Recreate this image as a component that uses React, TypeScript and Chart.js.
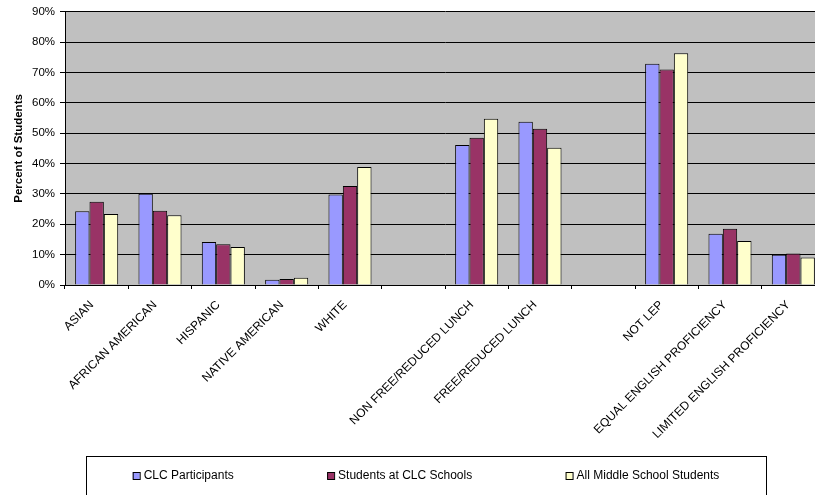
import React, { useEffect, useRef } from "react";
import { Chart, registerables } from "chart.js";

Chart.register(...registerables);

const categories = [
  "ASIAN",
  "AFRICAN AMERICAN",
  "HISPANIC",
  "NATIVE AMERICAN",
  "WHITE",
  "",
  "NON FREE/REDUCED LUNCH",
  "FREE/REDUCED LUNCH",
  "",
  "NOT LEP",
  "EQUAL ENGLISH PROFICIENCY",
  "LIMITED ENGLISH PROFICIENCY",
];
const seriesNames = ["CLC Participants", "Students at CLC Schools", "All Middle School Students"];
const clcParticipants = [24.3, 30.1, 14.2, 1.7, 29.8, null, 46.1, 53.8, null, 72.9, 16.9, 10.0];
const clcSchools = [27.4, 24.5, 13.4, 2.0, 32.6, null, 48.5, 51.5, null, 71.0, 18.5, 10.4];
const allMiddle = [23.4, 23.0, 12.5, 2.4, 38.9, null, 54.8, 45.2, null, 76.4, 14.5, 9.1];
const yTicks = [0, 10, 20, 30, 40, 50, 60, 70, 80, 90];
const colors = ["#9999FF", "#993366", "#FFFFCC"];

const FONT = "'Liberation Sans', Arial, sans-serif";

const plotBg = {
  id: "plotBg",
  beforeDraw(chart: any) {
    const { ctx, chartArea: a } = chart;
    ctx.save();
    ctx.fillStyle = "#C0C0C0";
    ctx.fillRect(a.left, a.top, a.right - a.left, a.bottom - a.top);
    ctx.restore();
  },
};

const boxLegend = {
  id: "boxLegend",
  afterDraw(chart: any) {
    const { ctx } = chart;
    const left = 86, top = 456, width = 680, height = 60;
    ctx.save();
    ctx.strokeStyle = "#000";
    ctx.lineWidth = 1;
    ctx.strokeRect(left + 0.5, top + 0.5, width, height);
    ctx.font = `12px ${FONT}`;
    ctx.textBaseline = "middle";
    const items = chart.data.datasets.map((d: any) => ({
      label: d.label,
      color: d.backgroundColor,
      w: 11 + ctx.measureText(d.label).width,
    }));
    const total = items.reduce((s: number, it: any) => s + it.w, 0);
    const gap = (width - total) / items.length;
    let x = left + gap / 2;
    const cy = 476;
    items.forEach((it: any) => {
      ctx.fillStyle = it.color;
      ctx.fillRect(x, cy - 4, 7, 7);
      ctx.strokeStyle = "#000";
      ctx.strokeRect(x + 0.5, cy - 3.5, 7, 7);
      ctx.fillStyle = "#000";
      ctx.textAlign = "left";
      ctx.fillText(it.label, x + 11, cy);
      x += it.w + gap;
    });
    ctx.restore();
  },
};

export default function App() {
  const ref = useRef<HTMLCanvasElement>(null);
  useEffect(() => {
    if (!ref.current) return;
    Chart.defaults.font.family = FONT;
    Chart.defaults.color = "#000";
    const chart = new Chart(ref.current, {
      type: "bar",
      data: {
        labels: categories,
        datasets: [clcParticipants, clcSchools, allMiddle].map((vals, i) => ({
          label: seriesNames[i],
          data: vals,
          backgroundColor: colors[i],
          borderColor: "#000",
          borderWidth: 1,
          categoryPercentage: 0.68,
          barPercentage: 1,
        })),
      },
      options: {
        animation: false,
        responsive: false,
        devicePixelRatio: 1,
        layout: { padding: { top: 11, right: 5, left: 0, bottom: 0 } },
        plugins: { legend: { display: false }, tooltip: { enabled: false } },
        scales: {
          x: {
            afterFit: (s: any) => {
              s.height = 210;
            },
            grid: {
              display: true,
              drawOnChartArea: false,
              drawTicks: true,
              tickLength: 4,
              color: "#000",
              offset: true,
            },
            border: { color: "#000" },
            ticks: {
              autoSkip: false,
              maxRotation: 45,
              minRotation: 45,
              padding: 9,
              labelOffset: -5,
              font: { size: 12 },
              color: "#000",
            },
          },
          y: {
            min: 0,
            max: 90,
            afterFit: (s: any) => {
              s.width = 65;
            },
            afterBuildTicks: (s: any) => {
              s.ticks = yTicks.map((v) => ({ value: v }));
            },
            grid: { color: "#000", lineWidth: 1, drawTicks: true, tickLength: 5 },
            border: { color: "#000" },
            ticks: {
              padding: 5,
              font: { size: 11.5 },
              color: "#000",
              callback: (v: any) => v + "%",
            },
            title: {
              display: true,
              text: "Percent of Students",
              font: { size: 11.5, weight: "bold", lineHeight: 1.2 },
              padding: { top: 12, bottom: 0 },
              color: "#000",
            },
          },
        },
      },
      plugins: [plotBg, boxLegend],
    });
    return () => chart.destroy();
  }, []);
  return (
    <div
      style={{
        position: "fixed",
        left: 0,
        top: 0,
        width: 815,
        height: 495,
        overflow: "hidden",
        background: "#fff",
      }}
    >
      <canvas ref={ref} width={830} height={495} style={{ display: "block" }} />
    </div>
  );
}
